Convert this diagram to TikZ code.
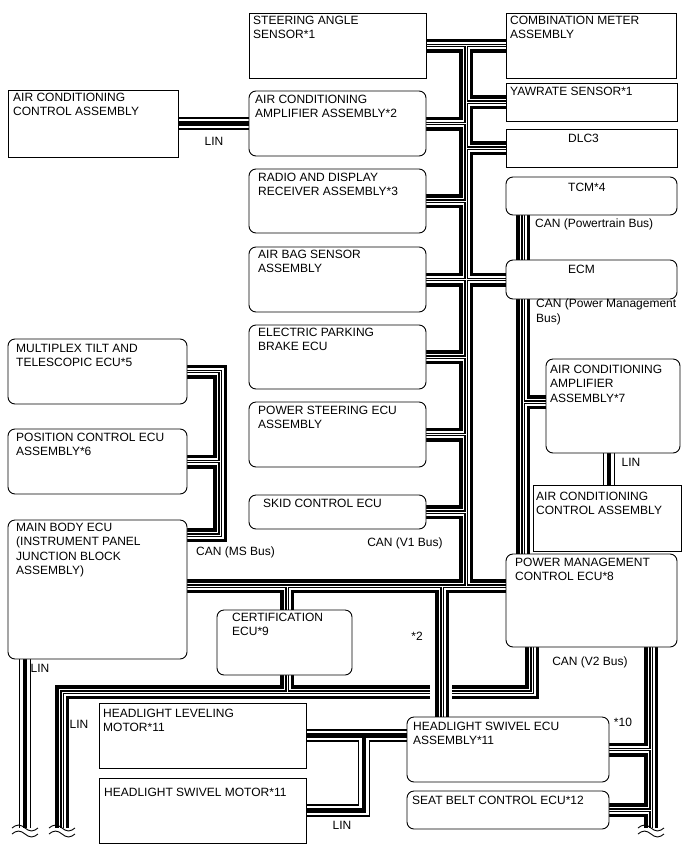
\documentclass[tikz,border=0pt]{standalone}
\usepackage{fontspec}
\setmainfont{Liberation Sans}
\usetikzlibrary{positioning,calc,backgrounds}

\tikzset{
    box/.style    = {rectangle, draw=black, line width=0.9pt, fill=white, inner sep=0pt, outer sep=0pt, anchor=north west},
    rbox/.style   = {box, rounded corners=7pt},
    sz/.style 2 args = {minimum width=#1pt, minimum height=#2pt},
    txt/.style    = {inner sep=0pt, anchor=north west, align=left, font=\fontsize{12}{14.3}\selectfont},
    lbl/.style    = {inner sep=0pt, font=\fontsize{12}{14.3}\selectfont},
    canbus/.style = {draw=white, line width=1pt,
                     preaction={draw=black, line width=14pt},
                     preaction={draw=white, line width=7pt},
                     preaction={draw=black, line width=3.2pt}},
    linbus/.style = {draw=black, line width=4.2pt,
                     preaction={draw=black, line width=12.5pt},
                     preaction={draw=white, line width=9.8pt}},
    wave/.style   = {line width=0.9pt}
}

\begin{document}
\begin{tikzpicture}[x=1pt, y=-1pt]
    \useasboundingbox (0,0) rectangle (688,852);

    % Left column
    \node[box, sz={170}{67}] (accL) at (8,90) {};
    \node[txt] (accL-t) at ([shift={(5,3)}]accL.north west) {AIR CONDITIONING\\CONTROL ASSEMBLY};
    \node[rbox, sz={179}{65}] (mtt) at (8,339) {};
    \node[txt] (mtt-t) at ([shift={(8,5)}]mtt.north west) {MULTIPLEX TILT AND\\TELESCOPIC ECU*5};
    \node[rbox, sz={179}{65}] (pos) at (8,429) {};
    \node[txt] (pos-t) at ([shift={(8,4)}]pos.north west) {POSITION CONTROL ECU\\ASSEMBLY*6};
    \node[rbox, sz={179}{139}] (mainb) at (8,520) {};
    \node[txt] (mainb-t) at ([shift={(8,3)}]mainb.north west) {MAIN BODY ECU\\(INSTRUMENT PANEL\\JUNCTION BLOCK\\ASSEMBLY)};

    % Middle column
    \node[box, sz={177}{65}] (steer) at (249,13) {};
    \node[txt] (steer-t) at ([shift={(4,3)}]steer.north west) {STEERING ANGLE\\SENSOR*1};
    \node[rbox, sz={177}{65}] (amp2) at (249,91) {};
    \node[txt] (amp2-t) at ([shift={(6,4)}]amp2.north west) {AIR CONDITIONING\\AMPLIFIER ASSEMBLY*2};
    \node[rbox, sz={177}{64}] (radio) at (249,169) {};
    \node[txt] (radio-t) at ([shift={(9,4)}]radio.north west) {RADIO AND DISPLAY\\RECEIVER ASSEMBLY*3};
    \node[rbox, sz={177}{65}] (airbag) at (249,247) {};
    \node[txt] (airbag-t) at ([shift={(9,3)}]airbag.north west) {AIR BAG SENSOR\\ASSEMBLY};
    \node[rbox, sz={177}{64}] (epb) at (249,325) {};
    \node[txt] (epb-t) at ([shift={(9,3)}]epb.north west) {ELECTRIC PARKING\\BRAKE ECU};
    \node[rbox, sz={177}{65}] (ps) at (249,402) {};
    \node[txt] (ps-t) at ([shift={(9,4)}]ps.north west) {POWER STEERING ECU\\ASSEMBLY};
    \node[rbox, sz={177}{34}] (skid) at (249,495) {};
    \node[txt] (skid-t) at ([shift={(14,4)}]skid.north west) {SKID CONTROL ECU};
    \node[rbox, sz={135}{65}] (cert) at (217,610) {};
    \node[txt] (cert-t) at ([shift={(15,3)}]cert.north west) {CERTIFICATION\\ECU*9};

    % Right column
    \node[box, sz={170}{65}] (combo) at (506,13) {};
    \node[txt] (combo-t) at ([shift={(4,3)}]combo.north west) {COMBINATION METER\\ASSEMBLY};
    \node[box, sz={171}{38}] (yaw) at (506,83) {};
    \node[txt] (yaw-t) at ([shift={(4,4)}]yaw.north west) {YAWRATE SENSOR*1};
    \node[box, sz={171}{38}] (dlc) at (506,129) {};
    \node[txt] (dlc-t) at ([shift={(62,5)}]dlc.north west) {DLC3};
    \node[rbox, sz={171}{38}] (tcm) at (506,177) {};
    \node[txt] (tcm-t) at ([shift={(62,6)}]tcm.north west) {TCM*4};
    \node[rbox, sz={171}{39}] (ecm) at (506,260) {};
    \node[txt] (ecm-t) at ([shift={(62,5)}]ecm.north west) {ECM};
    \node[rbox, sz={134}{94}] (amp7) at (546,359) {};
    \node[txt] (amp7-t) at ([shift={(4,6)}]amp7.north west) {AIR CONDITIONING\\AMPLIFIER\\ASSEMBLY*7};
    \node[box, sz={148}{66}] (accR) at (533,485) {};
    \node[txt] (accR-t) at ([shift={(3,7)}]accR.north west) {AIR CONDITIONING\\CONTROL ASSEMBLY};
    \node[rbox, sz={171}{93}] (pmecu) at (506,554) {};
    \node[txt] (pmecu-t) at ([shift={(9,4)}]pmecu.north west) {POWER MANAGEMENT\\CONTROL ECU*8};

    % Bottom row
    \node[box, sz={207}{65}] (hllev) at (99,703) {};
    \node[txt] (hllev-t) at ([shift={(4,6)}]hllev.north west) {HEADLIGHT LEVELING\\MOTOR*11};
    \node[box, sz={207}{65}] (hlswm) at (99,778) {};
    \node[txt] (hlswm-t) at ([shift={(5,10)}]hlswm.north west) {HEADLIGHT SWIVEL MOTOR*11};
    \node[rbox, sz={202}{65}] (hswecu) at (407,717) {};
    \node[txt] (hswecu-t) at ([shift={(6,5)}]hswecu.north west) {HEADLIGHT SWIVEL ECU\\ASSEMBLY*11};
    \node[rbox, sz={202}{38}] (seatb) at (407,791) {};
    \node[txt] (seatb-t) at ([shift={(5,5)}]seatb.north west) {SEAT BELT CONTROL ECU*12};

    % Bus positions
    \coordinate (v1) at (466,0);
    \coordinate (v1bot) at (0,586);
    \coordinate (ms) at (220,0);
    \coordinate (mbms) at ([yshift=-15pt]mainb.north east);
    \coordinate (pt) at (523,0);
    \coordinate (v2) at (651,0);
    \coordinate (gw) at (532,0);
    \coordinate (lowbus) at (0,692);
    \coordinate (certx) at (287,0);
    \coordinate (sw) at (442,0);
    \coordinate (hlx) at (364,0);
    \coordinate (aclin) at (609,0);
    \coordinate (lin1) at (25,0);
    \coordinate (lin2) at (62,0);
    \coordinate (cut) at (0,828);

    \begin{scope}[on background layer]
        % CAN (V1 Bus)
        \draw[canbus] (steer.east) -- (combo.west)
            (steer.east -| v1) -- (v1 |- v1bot)
            (amp2.east) -- (amp2.east -| v1)
            (radio.east) -- (radio.east -| v1)
            (airbag.east) -- (ecm.west)
            (epb.east) -- (epb.east -| v1)
            (ps.east) -- (ps.east -| v1)
            (skid.east) -- (skid.east -| v1)
            (yaw.west) -- (yaw.west -| v1)
            (dlc.west) -- (dlc.west -| v1)
            (mainb.east |- v1bot) -- (pmecu.west |- v1bot)
            (certx |- v1bot) -- (certx |- cert.north)
            (sw |- v1bot) -- (sw |- hswecu.north);
        % CAN (MS Bus)
        \draw[canbus] (mtt.east) -- (mtt.east -| ms) -- (ms |- mbms) -- (mbms)
            (pos.east) -- (pos.east -| ms);
        % CAN (Powertrain Bus) / CAN (Power Management Bus)
        \draw[canbus] (tcm.south -| pt) -- (ecm.north -| pt);
        \draw[canbus] (ecm.south -| pt) -- (pmecu.north -| pt)
            ([yshift=4pt]amp7.west) -- ([yshift=4pt]amp7.west -| pt);
        % CAN (V2 Bus)
        \draw[canbus] (pmecu.south -| v2) -- (v2 |- cut)
            (hswecu.east) -- (hswecu.east -| v2)
            (seatb.east) -- (seatb.east -| v2);
        \draw[canbus] (pmecu.south -| gw) -- (gw |- lowbus) -- (452,692)
            (430,692) -- (lin2 |- lowbus) -- (lin2 |- cut)
            (cert.south -| certx) -- (certx |- lowbus);
        % LIN
        \draw[linbus] (accL.east) -- (amp2.west);
        \draw[linbus] (aclin |- amp7.south) -- (aclin |- accR.north);
        \draw[linbus] (mainb.south -| lin1) -- (lin1 |- cut);
        \draw[linbus] (hllev.east) -- (hllev.east -| hswecu.west)
            (hllev.east -| hlx) -- (hlx |- hlswm.east) -- (hlswm.east);
    \end{scope}

    % Cut marks
    \foreach \wx in {25,62,651} {
        \draw[wave] (\wx-13,828) sin (\wx-6.5,825) cos (\wx,828) sin (\wx+6.5,831) cos (\wx+13,828);
        \draw[wave] (\wx-13,834) sin (\wx-6.5,831) cos (\wx,834) sin (\wx+6.5,837) cos (\wx+13,834);
    }

    % Bus labels
    \node[lbl] (lin-a) at (214,141) {LIN};
    \node[lbl, anchor=west] (ptbus) at (535,224) {CAN (Powertrain Bus)};
    \node[lbl, anchor=north west, align=left] (pmbus) at (536,299) {CAN (Power Management\\Bus)};
    \node[lbl] (lin-b) at (631,462) {LIN};
    \node[lbl, anchor=west] (msbus) at (196,552) {CAN (MS Bus)};
    \node[lbl] (v1bus) at (405,543) {CAN (V1 Bus)};
    \node[lbl] (n2) at (417,636) {*2};
    \node[lbl] (v2bus) at (590,662) {CAN (V2 Bus)};
    \node[lbl] (n10) at (623,722) {*10};
    \node[lbl] (lin-c) at (40,668) {LIN};
    \node[lbl] (lin-d) at (79,724) {LIN};
    \node[lbl] (lin-e) at (342,825) {LIN};
\end{tikzpicture}
\end{document}
